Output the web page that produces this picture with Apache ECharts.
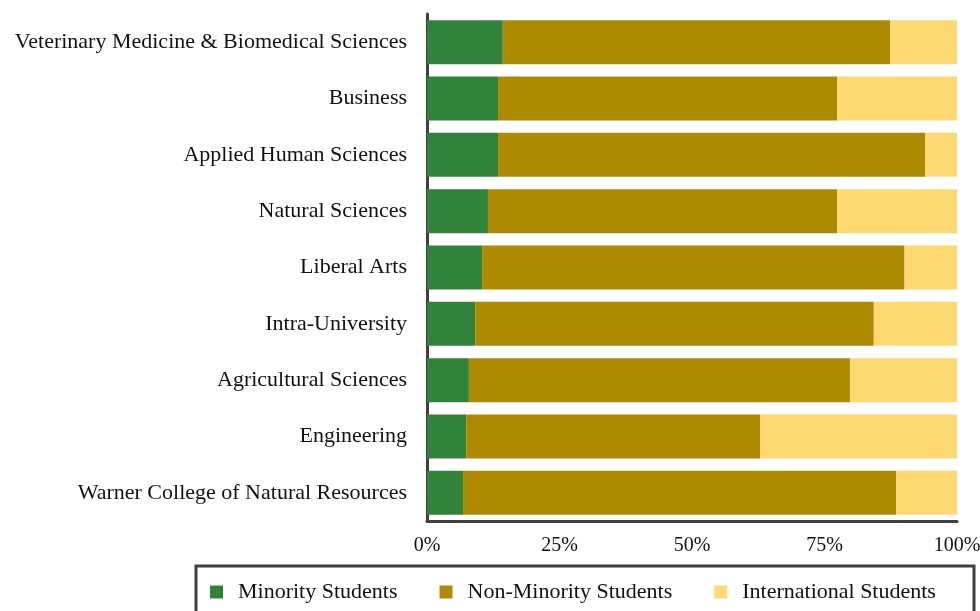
<!DOCTYPE html>
<html>
<head>
<meta charset="utf-8">
<script src="https://cdn.jsdelivr.net/npm/echarts@6/dist/echarts.min.js"></script>
<style>
  html, body { margin: 0; padding: 0; background: #fff; }
  #chart { width: 980px; height: 611px; }
</style>
</head>
<body>
<div id="chart"></div>
<script>
// colleges, top to bottom
const colleges = [
  'Veterinary Medicine & Biomedical Sciences',
  'Business',
  'Applied Human Sciences',
  'Natural Sciences',
  'Liberal Arts',
  'Intra-University',
  'Agricultural Sciences',
  'Engineering',
  'Warner College of Natural Resources'
];
// share of students, percent
const minority = [14.3, 13.4, 13.4, 11.5, 10.4, 9.1, 7.9, 7.4, 6.8];
const nonMinority = [73.1, 64.0, 80.6, 65.9, 79.7, 75.2, 71.9, 55.5, 81.7];
const international = [12.6, 22.6, 6.0, 22.6, 9.9, 15.7, 20.2, 37.1, 11.5];
const seriesNames = ['Minority Students', 'Non-Minority Students', 'International Students'];
const xTicks = [0, 25, 50, 75, 100];

const font = '"Liberation Serif", "DejaVu Serif", serif';
const axisColor = '#404040';

const myChart = echarts.init(document.getElementById('chart'));

const makeBar = (name, data) => ({
  name,
  type: 'bar',
  stack: 'total',
  barCategoryGap: '22%',
  data
});

const option = {
  animation: false,
  color: ['#31823b', '#ad8a00', '#fed972'],
  textStyle: { fontFamily: font },
  grid: {
    left: 427, right: 23, top: 14, bottom: 90,
    containLabel: false,
    outerBoundsMode: 'none'
  },
  xAxis: {
    type: 'value',
    min: xTicks[0],
    max: xTicks[xTicks.length - 1],
    interval: 25,
    axisLine: { show: true, lineStyle: { color: axisColor, width: 3 } },
    axisTick: { show: false },
    splitLine: { show: false },
    axisLabel: {
      formatter: '{value}%',
      color: '#111',
      fontSize: 20,
      fontFamily: font,
      margin: 15
    }
  },
  yAxis: {
    type: 'category',
    inverse: true,
    data: colleges,
    axisLine: { show: true, lineStyle: { color: axisColor, width: 3 } },
    axisTick: { show: false },
    axisLabel: {
      color: '#111',
      fontSize: 22,
      fontFamily: font,
      margin: 20
    }
  },
  legend: {
    left: 205,
    top: 576,
    itemWidth: 13,
    itemHeight: 13,
    itemGap: 42,
    icon: 'rect',
    data: seriesNames,
    textStyle: {
      color: '#111',
      fontSize: 22,
      fontFamily: font,
      padding: [0, 0, 0, 10]
    }
  },
  graphic: [{
    type: 'rect',
    shape: { x: 196, y: 566, width: 778, height: 70 },
    style: { fill: 'none', stroke: axisColor, lineWidth: 3 }
  }],
  series: [
    makeBar(seriesNames[0], minority),
    makeBar(seriesNames[1], nonMinority),
    makeBar(seriesNames[2], international)
  ]
};

myChart.setOption(option);
</script>
</body>
</html>
